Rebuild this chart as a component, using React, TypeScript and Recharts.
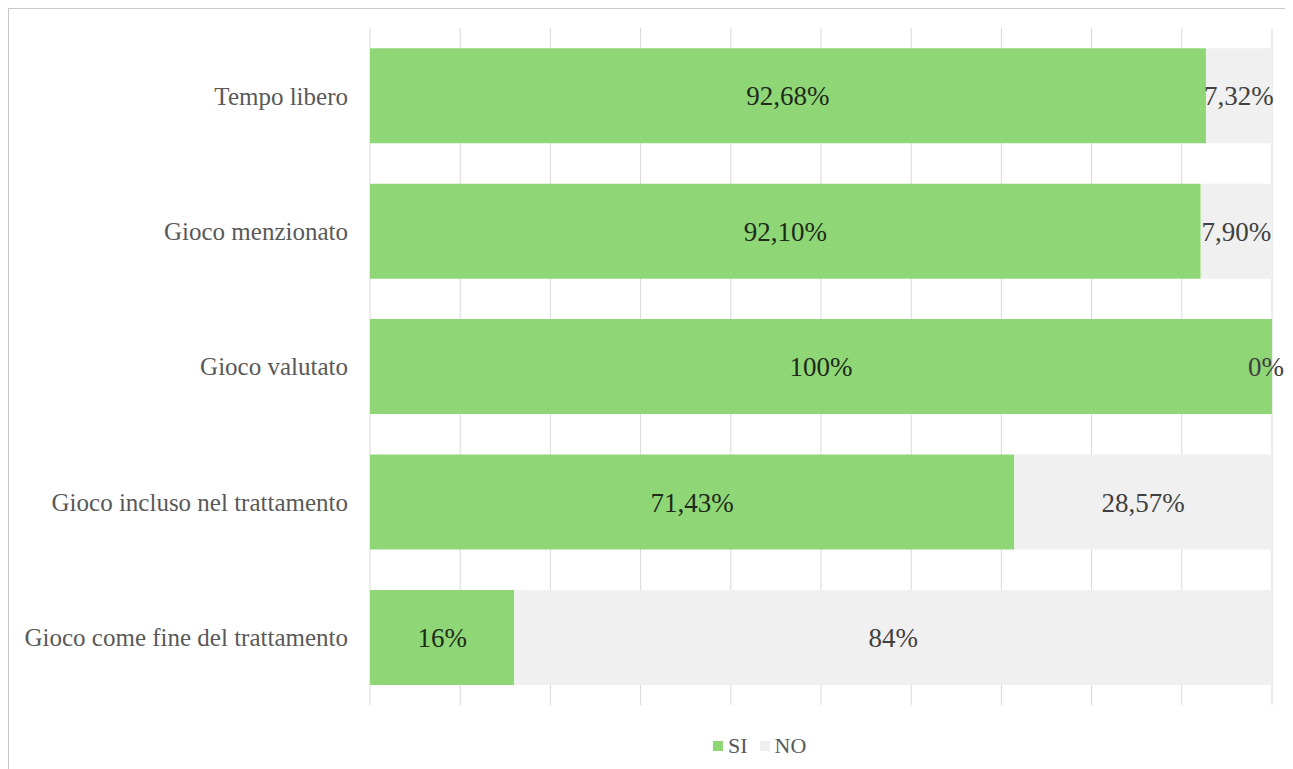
import { BarChart, Bar, XAxis, YAxis, CartesianGrid, Legend, LabelList } from "recharts";

const categories = [
  "Tempo libero",
  "Gioco menzionato",
  "Gioco valutato",
  "Gioco incluso nel trattamento",
  "Gioco come fine del trattamento",
];
const siValues = [92.68, 92.1, 100, 71.43, 16];
const noValues = [7.32, 7.9, 0, 28.57, 84];
const xTicks = [0, 10, 20, 30, 40, 50, 60, 70, 80, 90, 100];

const data = categories.map((name, i) => ({ name, SI: siValues[i], NO: noValues[i] }));

const GREEN = "#8fd776";
const GREY = "#f0f0f0";
const FONT = "'Liberation Serif', 'Times New Roman', 'DejaVu Serif', serif";

const fmt = (v: any) => {
  const n = Number(v);
  return Number.isInteger(n) ? `${n}%` : `${n.toFixed(2).replace(".", ",")}%`;
};

// the NO bar has no rect when its value is 0, so its label is drawn from the SI bar's end
const zeroNoLabel = (p: any) => {
  if (Number(p.value) !== 0) return null;
  return (
    <text
      x={p.x + p.width - 6}
      y={p.y + p.height / 2}
      textAnchor="middle"
      dominantBaseline="central"
      style={{ fontSize: 27, fill: "#404040", fontFamily: FONT }}
    >
      {fmt(p.value)}
    </text>
  );
};

function LegendContent() {
  const items = [
    { label: "SI", color: GREEN },
    { label: "NO", color: GREY },
  ];
  return (
    <div style={{ display: "flex", alignItems: "center", fontFamily: FONT, fontSize: 22, color: "#595959" }}>
      {items.map((it) => (
        <div key={it.label} style={{ display: "flex", alignItems: "center", marginRight: 12 }}>
          <span style={{ width: 10, height: 10, background: it.color, display: "inline-block", marginRight: 5 }} />
          <span>{it.label}</span>
        </div>
      ))}
    </div>
  );
}

export default function App() {
  return (
    <div style={{ width: 1277, height: 790, border: "1px solid #c8c8c8", background: "#fff" }}>
      <BarChart
        width={1275}
        height={780}
        data={data}
        layout="vertical"
        barCategoryGap="15%"
        margin={{ top: 19, right: 12, left: 0, bottom: 84 }}
        style={{ overflow: "visible" }}
      >
        <CartesianGrid horizontal={false} stroke="#d9d9d9" />
        <XAxis
          type="number"
          domain={[0, 100]}
          ticks={xTicks}
          interval={0}
          tick={() => <g />}
          axisLine={false}
          tickLine={false}
          height={0}
        />
        <YAxis
          type="category"
          dataKey="name"
          width={361}
          axisLine={false}
          tickLine={false}
          tickMargin={16}
          tick={{ fontSize: 25, fill: "#595959", fontFamily: FONT }}
        />
        <Legend
          layout="vertical"
          align="center"
          verticalAlign="middle"
          wrapperStyle={{ top: 724, left: 704, width: 200 }}
          content={() => <LegendContent />}
        />
        <Bar dataKey="SI" stackId="a" fill={GREEN} isAnimationActive={false}>
          <LabelList dataKey="SI" position="center" formatter={fmt} style={{ fontSize: 27, fill: "#1e2a1a", fontFamily: FONT }} />
          <LabelList dataKey="NO" content={zeroNoLabel} />
        </Bar>
        <Bar dataKey="NO" stackId="a" fill={GREY} isAnimationActive={false}>
          <LabelList dataKey="NO" position="center" formatter={fmt} style={{ fontSize: 27, fill: "#404040", fontFamily: FONT }} />
        </Bar>
      </BarChart>
    </div>
  );
}
